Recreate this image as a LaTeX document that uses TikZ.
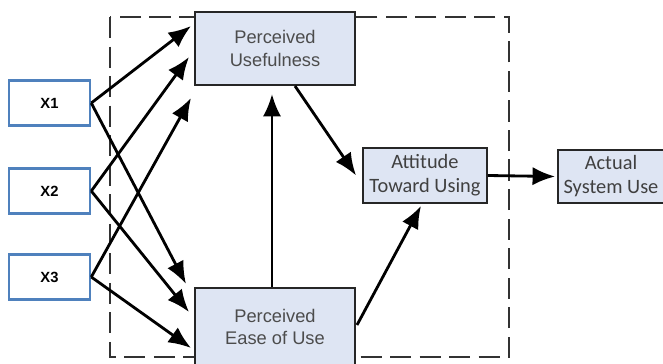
\documentclass[tikz,border=0pt]{standalone}
\usepackage{fontspec}
\setmainfont{Liberation Sans}
\newfontfamily\calibri{Carlito}
\usetikzlibrary{arrows.meta,calc}
\definecolor{xblue}{RGB}{79,129,189}
\definecolor{boxfill}{RGB}{222,229,243}
\definecolor{framegray}{RGB}{50,50,50}

\begin{document}
\begin{tikzpicture}[
    x=0.025cm, y=-0.025cm,
    inputbox/.style={rectangle, draw=xblue, line width=1.8pt, fill=white, minimum width=2.025cm, minimum height=1.125cm, inner sep=0pt, font=\fontsize{10.5}{12}\selectfont\bfseries},
    constructbox/.style={rectangle, draw=black!85, line width=1.4pt, fill=boxfill, minimum width=4cm, inner sep=0pt, align=center, font=\fontsize{13}{16}\selectfont, text=black!70},
    smallbox/.style={rectangle, draw=black!85, line width=1.3pt, fill=boxfill, inner sep=0pt, align=center, font=\calibri\fontsize{14.5}{17}\selectfont, text=black!75},
    arrow/.style={-{Latex[length=16pt,width=13pt]}, line width=2pt},
    frame/.style={draw=framegray, line width=1.9pt, dash pattern=on 15pt off 6pt}
]
\useasboundingbox (0,0) rectangle (663,363);

% Dashed TAM frame
\draw[frame] (110,17) rectangle (509,357);

% Input boxes
\node[inputbox] (x1) at (49.5,103) {X1};
\node[inputbox] (x2) at (49.5,191) {X2};
\node[inputbox] (x3) at (49.5,277) {X3};

% TAM constructs
\node[constructbox, minimum height=1.825cm] (pu) at (275,48.5) {Perceived\\Usefulness};
\node[constructbox, minimum height=1.95cm] (peou) at (275,327) {Perceived\\Ease of Use};
\node[smallbox, minimum width=3.1cm, minimum height=1.375cm] (att) at (425,175.5) {Attitude\\Toward Using};
\node[smallbox, minimum width=2.65cm, minimum height=1.325cm] (use) at (611,176.5) {Actual\\System Use};

% Arrows - inputs to PU
\draw[arrow] (x1.east) -- ($(pu.north west)+(-3,15)$);
\draw[arrow] (x2.east) -- ($(pu.west)+(-5,8.5)$);
\draw[arrow] (x3.east) -- ($(pu.south west)+(-3,12)$);

% Arrows - inputs to PEOU
\draw[arrow] (x1.east) -- ($(peou.north west)+(-8,-3)$);
\draw[arrow] (x2.east) -- ($(peou.north west)+(-5,25)$);
\draw[arrow] (x3.east) -- ($(peou.west)+(-3,21)$);

% Arrows - TAM
\draw[arrow] ($(peou.north)+(-3,0)$) -- ($(pu.south)+(-3,8)$);
\draw[arrow] ($(pu.south)+(20,0)$) -- ($(att.west)+(-6,0)$);
\draw[arrow] ($(peou.east)+(1,-2)$) -- ($(att.south)+(-4,2)$);
\draw[arrow] (att.east) -- ($(use.west)+(-2,0)$);

\end{tikzpicture}
\end{document}
